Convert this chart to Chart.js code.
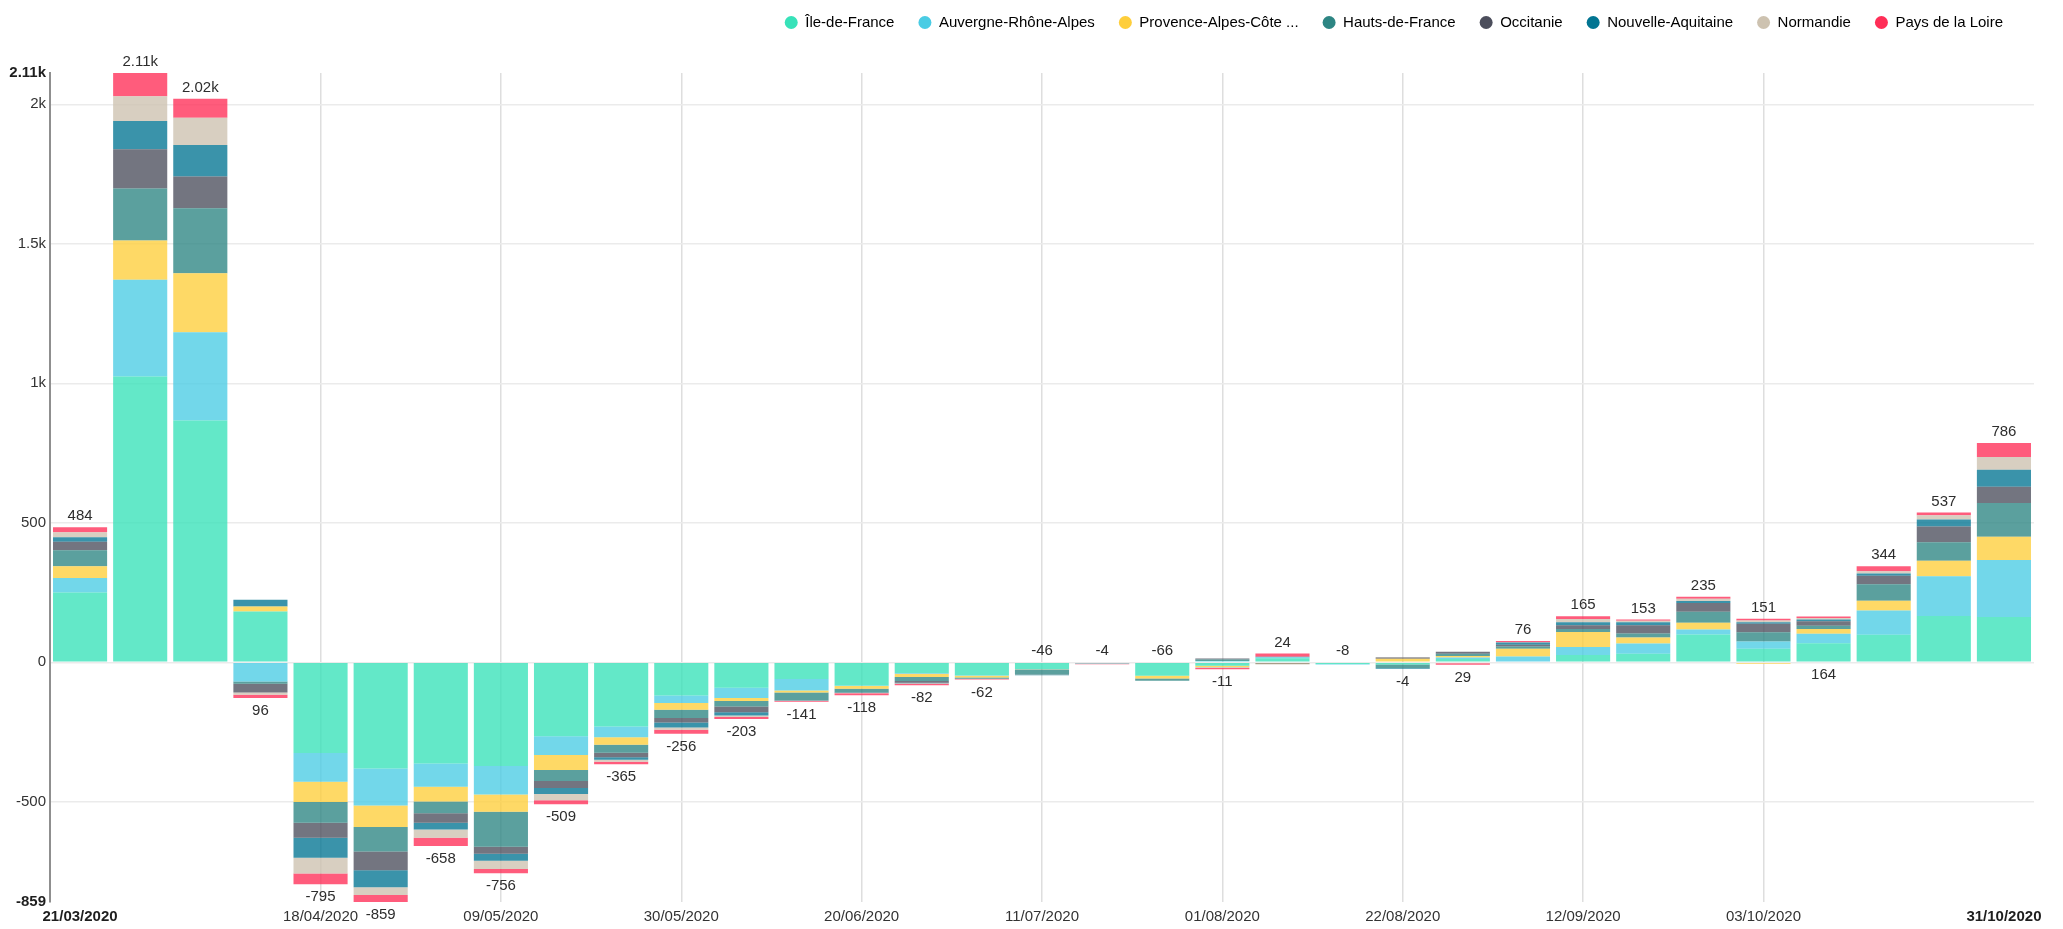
<!DOCTYPE html>
<html>
<head>
<meta charset="utf-8">
<script src="https://cdn.jsdelivr.net/npm/chart.js@4.4.1/dist/chart.umd.min.js"></script>
<style>
  html, body { margin: 0; padding: 0; background: #fff; }
</style>
</head>
<body>
<canvas id="chart" width="2063" height="929"></canvas>
<script>
// Weekly net change per region, 21/03/2020 -> 31/10/2020
const weeks = [
    '21/03/2020', '28/03/2020', '04/04/2020', '11/04/2020', '18/04/2020', '25/04/2020',
    '02/05/2020', '09/05/2020', '16/05/2020', '23/05/2020', '30/05/2020', '06/06/2020',
    '13/06/2020', '20/06/2020', '27/06/2020', '04/07/2020', '11/07/2020', '18/07/2020',
    '25/07/2020', '01/08/2020', '08/08/2020', '15/08/2020', '22/08/2020', '29/08/2020',
    '05/09/2020', '12/09/2020', '19/09/2020', '26/09/2020', '03/10/2020', '10/10/2020',
    '17/10/2020', '24/10/2020', '31/10/2020'
];

const regionNames = [
    'Île-de-France', 'Auvergne-Rhône-Alpes', 'Provence-Alpes-Côte ...', 'Hauts-de-France',
    'Occitanie', 'Nouvelle-Aquitaine', 'Normandie', 'Pays de la Loire'
];

const ileDeFrance = [250, 1024, 867, 182, -325, -381, -363, -372, -265, -230, -119, -91, -60, -83, -38, -46, -24, 3, -48, -12, 15, -6, -8, 12, 3, 26, 31, 100, 49, 68, 99, 166, 162];
const auvergne    = [52, 347, 316, -69, -103, -132, -83, -102, -67, -39, -27, -37, -41, -2, -3, -2, -1, -3, 0, 5, 3, -2, 3, 5, 18, 29, 36, 18, 26, 34, 87, 142, 205];
const provence    = [42, 141, 211, 18, -73, -77, -53, -62, -54, -26, -24, -11, -7, -10, -12, -6, -1, 0, -10, -5, -3, 0, 10, 6, 28, 54, 22, 24, -5, 17, 35, 56, 83];
const hautsDeFr   = [58, 186, 233, -8, -74, -88, -42, -125, -39, -29, -30, -19, -28, -13, -14, -4, -18, -1, -8, 5, 2, 0, -12, 8, 8, 10, 14, 39, 33, 12, 59, 66, 121];
const occitanie   = [30, 141, 114, -31, -54, -67, -34, -25, -25, -16, -16, -21, -1, -1, -6, -1, -1, 0, 0, 4, -3, 0, 4, 7, 6, 14, 30, 32, 30, 16, 30, 57, 58];
const nouvAquit   = [16, 101, 113, 24, -71, -61, -24, -25, -22, -9, -18, -12, -1, -1, -2, -1, -1, 0, 0, 0, 0, 0, -3, 0, 8, 11, 11, 7, 6, 6, 8, 25, 61];
const normandie   = [18, 89, 98, -8, -57, -28, -30, -30, -22, -7, -8, -5, -1, -1, -2, 0, 0, -1, 0, -3, -2, 0, 2, -3, 1, 11, 5, 8, 6, 6, 8, 15, 46];
const paysLoire   = [18, 83, 68, -12, -38, -25, -29, -15, -15, -9, -14, -7, -2, -7, -5, -2, 0, -2, 0, -5, 12, 0, 0, -6, 4, 10, 4, 7, 6, 5, 18, 10, 50];

const regionValues = [ileDeFrance, auvergne, provence, hautsDeFr, occitanie, nouvAquit, normandie, paysLoire];

// y axis: min / max of the data plus round ticks
const yMin = -859;
const yMax = 2112;
const yTicks = [-859, -500, 0, 500, 1000, 1500, 2000, 2112];

// which week labels / grid lines show on the x axis
const xLabelIdx = [0, 4, 7, 10, 13, 16, 19, 22, 25, 28, 32];
const xGridIdx = [4, 7, 10, 13, 16, 19, 22, 25, 28];

const baseColors = ['#37E2B9', '#4ACCE4', '#FECE3B', '#2D8583', '#4C4E5C', '#027592', '#CDC2B0', '#FF2E57'];

// totals drawn under the bar instead of over it
const labelBelow = [3, 4, 5, 6, 7, 8, 9, 10, 11, 12, 13, 14, 15, 19, 22, 23, 29];

const FONT = '"Liberation Sans", Arial, sans-serif';

function hexToRgba(hex, a) {
    const n = parseInt(hex.slice(1), 16);
    return `rgba(${(n >> 16) & 255}, ${(n >> 8) & 255}, ${n & 255}, ${a})`;
}

function fmtK(v) {
    if (Math.abs(v) >= 1000) return parseFloat((v / 1000).toFixed(2)) + 'k';
    return String(v);
}

const isEnd = ctx => ctx.tick && (ctx.tick.value === yMin || ctx.tick.value === yMax);

const totalsPlugin = {
    id: 'totals',
    afterDatasetsDraw(chart) {
        const { ctx, scales: { y } } = chart;
        const meta = chart.getDatasetMeta(0);
        ctx.save();
        ctx.font = '15px ' + FONT;
        ctx.fillStyle = '#2e2e2e';
        ctx.textAlign = 'center';
        ctx.textBaseline = 'middle';
        weeks.forEach((w, i) => {
            let pos = 0, neg = 0;
            regionValues.forEach(vals => {
                if (vals[i] >= 0) pos += vals[i]; else neg += vals[i];
            });
            const x = meta.data[i].x;
            const ty = labelBelow.includes(i)
                ? y.getPixelForValue(neg) + 13
                : y.getPixelForValue(pos) - 11;
            ctx.fillText(fmtK(pos + neg), x, ty);
        });
        ctx.restore();
    }
};

// legend sits a little higher and left of where Chart.js puts it
const legendTweak = {
    id: 'legendTweak',
    beforeInit(chart) {
        const legend = chart.legend;
        const fit = legend.fit;
        legend.fit = function () {
            fit.apply(this, arguments);
            this.height = 73;
        };
        const draw = legend.draw;
        legend.draw = function () {
            const c = this.ctx;
            c.save();
            c.translate(-7, -9);
            draw.apply(this, arguments);
            c.restore();
        };
    }
};

const datasets = regionNames.map((name, i) => ({
    label: name,
    data: regionValues[i],
    backgroundColor: hexToRgba(baseColors[i], 0.78),
    borderWidth: 0,
    stack: 'all',
    barPercentage: 0.9,
    categoryPercentage: 1.0
}));

new Chart(document.getElementById('chart'), {
    type: 'bar',
    data: { labels: weeks, datasets },
    plugins: [legendTweak, totalsPlugin],
    options: {
        responsive: false,
        animation: false,
        layout: { padding: { top: 0, right: 29, bottom: 0, left: 0 } },
        plugins: {
            tooltip: { enabled: false },
            legend: {
                position: 'top',
                align: 'end',
                labels: {
                    usePointStyle: true,
                    pointStyle: 'circle',
                    boxHeight: 9.2,
                    pointStyleWidth: 13,
                    padding: 24,
                    color: '#2e2e2e',
                    font: { size: 15, family: FONT },
                    generateLabels(chart) {
                        return chart.data.datasets.map((ds, i) => ({
                            text: ds.label,
                            fillStyle: baseColors[i],
                            strokeStyle: baseColors[i],
                            lineWidth: 0,
                            pointStyle: 'circle',
                            datasetIndex: i,
                            hidden: false
                        }));
                    }
                }
            }
        },
        scales: {
            x: {
                stacked: true,
                offset: true,
                border: { display: false },
                grid: {
                    offset: false,
                    drawTicks: false,
                    lineWidth: 1.5,
                    color: ctx => xGridIdx.includes(ctx.index) ? '#dedede' : 'rgba(0,0,0,0)'
                },
                ticks: {
                    autoSkip: false,
                    maxRotation: 0,
                    minRotation: 0,
                    padding: 6,
                    color: ctx => (ctx.index === 0 || ctx.index === weeks.length - 1) ? '#1e1e1e' : '#333',
                    font: ctx => ({
                        size: 15,
                        family: FONT,
                        weight: (ctx.index === 0 || ctx.index === weeks.length - 1) ? 'bold' : 'normal'
                    }),
                    callback: (v, i) => xLabelIdx.includes(i) ? weeks[i] : ''
                },
                afterFit: s => { s.height = 27; }
            },
            y: {
                stacked: true,
                min: yMin,
                max: yMax,
                afterBuildTicks: s => { s.ticks = yTicks.map(v => ({ value: v })); },
                border: { display: true, color: '#8f8f8f', width: 2 },
                grid: {
                    drawTicks: false,
                    lineWidth: 1.5,
                    color: ctx => isEnd(ctx) ? 'rgba(0,0,0,0)' : '#ebebeb'
                },
                ticks: {
                    padding: 4,
                    color: ctx => isEnd(ctx) ? '#1e1e1e' : '#333',
                    font: ctx => ({
                        size: 15,
                        family: FONT,
                        weight: isEnd(ctx) ? 'bold' : 'normal'
                    }),
                    callback: v => fmtK(v)
                },
                afterFit: s => { s.width = 50; }
            }
        }
    }
});
</script>
</body>
</html>
